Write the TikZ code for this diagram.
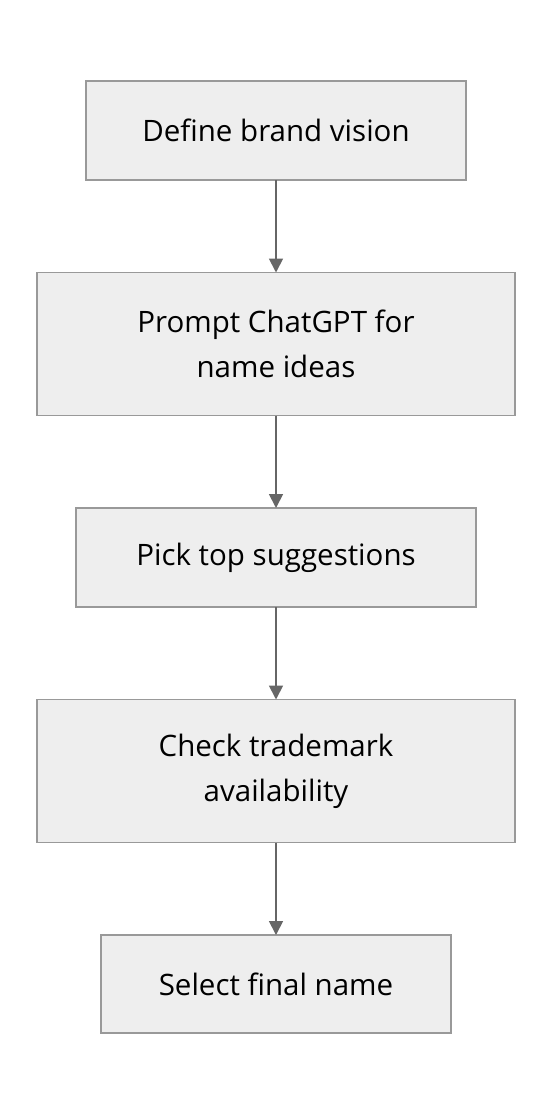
\documentclass[tikz,border=0pt]{standalone}
\usepackage{fontspec}
\setmainfont{Open Sans}
\usetikzlibrary{positioning, arrows.meta}
\definecolor{boxfill}{HTML}{EEEEEE}
\definecolor{boxline}{HTML}{999999}
\definecolor{arrowc}{HTML}{666666}
\begin{document}
\begin{tikzpicture}[node distance=92.5pt,
	stepbox/.style={draw=boxline,fill=boxfill,line width=1.5pt,align=center,
	inner sep=0pt,outer sep=0pt,font=\fontsize{29.5}{45}\selectfont},
	flow/.style={draw=arrowc,line width=1.8pt,-{Triangle[length=14pt,width=14pt]}}]
\useasboundingbox (0,0) rectangle (552pt,-1116pt);
\node[stepbox,minimum width=380pt,minimum height=99pt] (vision) at (276pt,-130.5pt) {Define brand vision};
\node[stepbox,minimum width=478pt,minimum height=143pt,below=of vision] (prompt) {Prompt ChatGPT for\\ name ideas};
\node[stepbox,minimum width=400pt,minimum height=99pt,below=of prompt] (pick) {Pick top suggestions};
\node[stepbox,minimum width=478pt,minimum height=143pt,below=of pick] (check) {Check trademark\\ availability};
\node[stepbox,minimum width=350pt,minimum height=98pt,below=of check] (select) {Select final name};
\draw[flow] (vision) -- (prompt);
\draw[flow] (prompt) -- (pick);
\draw[flow] (pick) -- (check);
\draw[flow] (check) -- (select);
\end{tikzpicture}
\end{document}
